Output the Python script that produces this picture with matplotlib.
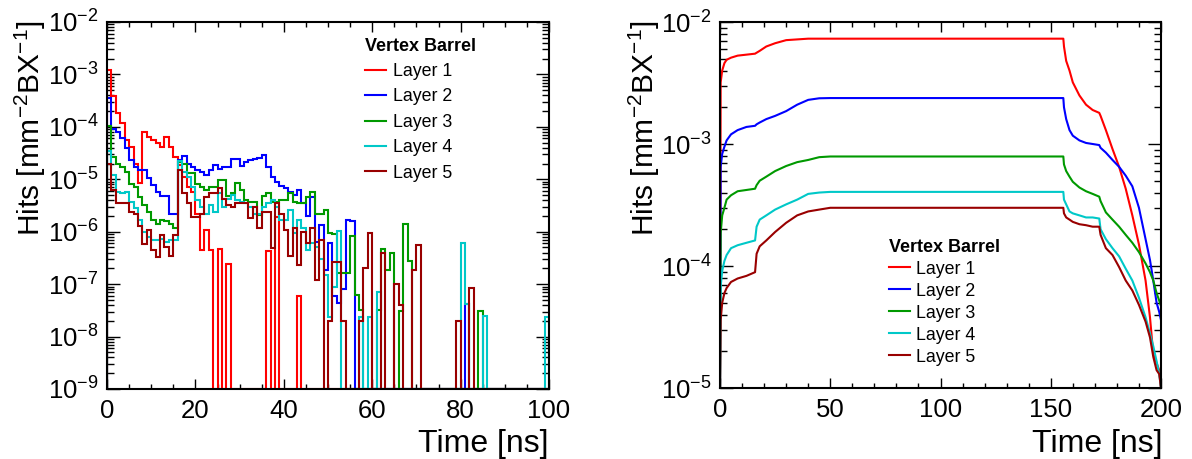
import numpy as np
import matplotlib
matplotlib.use('Agg')
import matplotlib.pyplot as plt
from matplotlib.lines import Line2D
from matplotlib.ticker import LogLocator, MultipleLocator, NullFormatter

plt.rcParams['font.family'] = ['Liberation Sans', 'DejaVu Sans']
plt.rcParams['mathtext.fontset'] = 'custom'
plt.rcParams['mathtext.rm'] = 'Liberation Sans'
plt.rcParams['mathtext.it'] = 'Liberation Sans:italic'
plt.rcParams['mathtext.bf'] = 'Liberation Sans:bold'
plt.rcParams['axes.unicode_minus'] = False

layers = ['Layer 1', 'Layer 2', 'Layer 3', 'Layer 4', 'Layer 5']
colors = ['#ff0000', '#0000ff', '#009900', '#00c8c8', '#990000']

# left panel: hits per 1 ns bin, 0-100 ns
bin_edges = np.arange(0, 101, 1)

hits_l1 = [1.2e-3, 3.8e-4, 1.8e-4, 1.2e-4, 5.6e-5, 4.2e-5, 2.0e-5, 8.5e-6, 8.1e-5, 6.5e-5,
           5.6e-5, 5.0e-5, 4.2e-5, 6.5e-5, 4.2e-5, 2.7e-5, 1.9e-5, 1.1e-5, 7.0e-6, 5.7e-6,
           2.2e-6, 4.5e-7, 1.1e-6, 4.5e-7, 0, 4.7e-7, 0, 2.4e-7, 0, 0,
           0, 0, 0, 0, 0, 0, 4.2e-7, 0, 1.9e-6, 0,
           0, 0, 0, 5.9e-8, 0, 0, 0, 0, 0, 0,
           0, 0, 0, 0, 0, 0, 0, 0, 0, 0,
           0, 0, 0, 0, 0, 0, 0, 0, 0, 0,
           0, 0, 0, 0, 0, 0, 0, 0, 0, 0,
           0, 0, 0, 0, 0, 0, 0, 0, 0, 0,
           0, 0, 0, 0, 0, 0, 0, 0, 0, 0]

hits_l2 = [3.5e-4, 9.3e-5, 8.1e-5, 6.0e-5, 3.9e-5, 2.3e-5, 1.7e-5, 1.5e-5, 1.5e-5, 1.05e-5,
           7.8e-6, 5.8e-6, 4.7e-6, 4.7e-6, 2.2e-6, 2.2e-6, 2.3e-5, 2.8e-5, 2.0e-5, 1.7e-5,
           1.5e-5, 1.4e-5, 1.2e-5, 1.5e-5, 1.9e-5, 1.6e-5, 1.7e-5, 1.7e-5, 2.4e-5, 2.4e-5,
           1.8e-5, 2.1e-5, 2.3e-5, 2.4e-5, 2.5e-5, 2.9e-5, 1.7e-5, 1.1e-5, 8.9e-6, 7.6e-6,
           6.7e-6, 5.8e-6, 5.0e-6, 6.2e-6, 3.5e-6, 2.0e-6, 4.5e-6, 6.5e-7, 1.35e-6, 1.9e-7,
           6.0e-7, 6.0e-8, 4.3e-8, 8.0e-8, 1.7e-6, 1.6e-6, 0, 0, 0, 0,
           0, 0, 0, 0, 0, 0, 0, 0, 0, 0,
           0, 0, 0, 0, 0, 0, 0, 0, 0, 0,
           0, 4.2e-8, 0, 0, 0, 0, 0, 0, 0, 0,
           0, 0, 0, 0, 0, 0, 0, 0, 0, 0]

hits_l3 = [1.05e-4, 2.7e-5, 2.0e-5, 1.7e-5, 1.4e-5, 8.3e-6, 7.1e-6, 4.6e-6, 3.2e-6, 2.4e-6,
           1.7e-6, 1.4e-6, 1.7e-6, 1.6e-6, 1.4e-6, 1.2e-6, 2.1e-5, 2.0e-5, 1.3e-5, 1.3e-5,
           8.3e-6, 7.1e-6, 6.3e-6, 7.1e-6, 7.2e-6, 9.5e-6, 9.5e-6, 4.7e-6, 5.4e-6, 8.5e-6,
           6.2e-6, 4.0e-6, 3.7e-6, 3.7e-6, 2.1e-6, 4.7e-6, 5.4e-6, 3.7e-6, 3.7e-6, 4.0e-6,
           4.0e-6, 5.4e-6, 3.7e-6, 3.5e-6, 3.5e-6, 4.5e-6, 5.8e-6, 2.2e-6, 2.2e-6, 2.6e-6,
           9.3e-7, 8.9e-7, 1.6e-7, 1.6e-7, 1.6e-7, 8.3e-7, 6.2e-8, 3.2e-8, 0, 0,
           0, 3.2e-8, 4.6e-7, 1.9e-7, 4.0e-7, 0, 3.1e-8, 1.4e-6, 2.8e-7, 0,
           0, 0, 0, 0, 0, 0, 0, 0, 0, 0,
           0, 0, 0, 0, 3.1e-8, 0, 0, 0, 0, 0,
           0, 0, 0, 0, 0, 0, 0, 0, 0, 0]

hits_l4 = [3.5e-5, 1.2e-5, 5.8e-6, 5.4e-6, 5.8e-6, 3.7e-6, 2.8e-6, 1.7e-6, 1.0e-6, 7.9e-7,
           6.8e-7, 6.8e-7, 7.4e-7, 6.3e-7, 6.8e-7, 6.8e-7, 2.2e-5, 1.4e-5, 1.1e-5, 7.1e-6,
           4.0e-6, 3.0e-6, 2.2e-6, 3.2e-6, 2.4e-6, 5.4e-6, 3.0e-6, 4.3e-6, 5.0e-6, 4.0e-6,
           3.7e-6, 3.5e-6, 3.0e-6, 2.2e-6, 2.2e-6, 3.0e-6, 3.5e-6, 4.0e-6, 3.0e-6, 1.7e-6,
           1.7e-6, 2.6e-6, 9.3e-7, 1.7e-6, 1.2e-6, 4.5e-7, 6.0e-7, 5.0e-7, 3.0e-7, 1.5e-7,
           2.4e-8, 8.9e-8, 1.05e-6, 0, 0, 0, 0, 2.4e-8, 0, 2.4e-8,
           0, 7.1e-8, 0, 0, 0, 0, 0, 0, 0, 0,
           0, 0, 0, 0, 0, 0, 0, 0, 0, 0,
           6.2e-7, 4.2e-8, 0, 0, 0, 2.5e-8, 0, 0, 0, 0,
           0, 0, 0, 0, 0, 0, 0, 0, 0, 2.4e-8]

hits_l5 = [2.0e-5, 6.2e-6, 3.5e-6, 3.5e-6, 3.5e-6, 2.4e-6, 2.2e-6, 1.3e-6, 5.9e-7, 1.1e-6,
           4.4e-7, 3.3e-7, 8.5e-7, 5.1e-7, 3.5e-7, 8.5e-7, 1.5e-5, 5.4e-6, 3.5e-6, 1.9e-6,
           1.9e-6, 2.2e-6, 4.5e-6, 5.4e-6, 5.4e-6, 6.8e-6, 4.3e-6, 3.2e-6, 3.0e-6, 3.5e-6,
           3.5e-6, 3.5e-6, 1.8e-6, 3.0e-6, 1.2e-6, 2.4e-6, 2.4e-6, 4.8e-7, 3.5e-6, 2.2e-6,
           1.1e-6, 3.5e-7, 1.2e-6, 2.3e-7, 1.0e-6, 6.0e-7, 1.2e-6, 1.2e-7, 6.9e-7, 0,
           2.0e-8, 2.7e-7, 2.7e-7, 2.0e-8, 0, 0, 0, 2.0e-8, 2.0e-7, 9.5e-7,
           0, 0, 3.9e-7, 0, 0, 1.0e-7, 4.0e-8, 0, 0, 1.9e-7,
           5.5e-7, 0, 0, 0, 0, 0, 0, 0, 0, 2.0e-8,
           0, 0, 8.3e-8, 0, 0, 0, 0, 0, 0, 0,
           0, 0, 0, 0, 0, 0, 0, 0, 0, 0]

# right panel: 0-200 ns
time_pts = [0, 0.3, 1, 2, 3, 5, 8, 12, 15.9, 16.6, 18, 21, 25, 30, 35, 40, 45, 50,
            155.7, 156, 157, 158.5, 160, 163, 166, 169, 172, 172.6, 175, 178, 181,
            184, 187, 190, 193, 195, 196.5, 198, 199.2, 200]

occ_l1 = [1.0e-5, 3.2e-3, 4.0e-3, 4.6e-3, 4.9e-3, 5.1e-3, 5.3e-3, 5.4e-3, 5.5e-3, 5.6e-3,
          5.8e-3, 6.3e-3, 6.7e-3, 7.1e-3, 7.2e-3, 7.3e-3, 7.3e-3, 7.3e-3, 7.3e-3, 6.3e-3,
          4.8e-3, 4.0e-3, 3.2e-3, 2.5e-3, 2.1e-3, 1.9e-3, 1.8e-3, 1.7e-3, 1.3e-3, 9.1e-4,
          6.5e-4, 4.3e-4, 2.6e-4, 1.5e-4, 7.6e-5, 3.8e-5, 1.9e-5, 1.6e-5, 1.4e-5, 1.0e-5]
occ_l2 = [1.0e-5, 6.5e-4, 8.3e-4, 9.5e-4, 1.07e-3, 1.2e-3, 1.3e-3, 1.38e-3, 1.41e-3, 1.45e-3,
          1.5e-3, 1.6e-3, 1.7e-3, 1.86e-3, 2.1e-3, 2.3e-3, 2.37e-3, 2.38e-3, 2.38e-3, 2.0e-3,
          1.6e-3, 1.3e-3, 1.17e-3, 1.07e-3, 1.02e-3, 1.0e-3, 9.8e-4, 9.3e-4, 8.5e-4, 7.4e-4,
          6.5e-4, 5.5e-4, 4.5e-4, 3.0e-4, 1.66e-4, 1.12e-4, 7.6e-5, 5.0e-5, 4.2e-5, 3.6e-5]
occ_l3 = [1.0e-5, 1.86e-4, 2.6e-4, 3.0e-4, 3.5e-4, 3.8e-4, 4.1e-4, 4.2e-4, 4.3e-4, 4.6e-4,
          5.0e-4, 5.4e-4, 6.0e-4, 6.6e-4, 7.1e-4, 7.4e-4, 7.8e-4, 7.9e-4, 7.9e-4, 6.8e-4,
          6.0e-4, 5.4e-4, 4.9e-4, 4.4e-4, 4.1e-4, 3.9e-4, 3.7e-4, 3.4e-4, 2.75e-4, 2.4e-4,
          2.1e-4, 1.8e-4, 1.55e-4, 1.3e-4, 1.05e-4, 8.9e-5, 7.6e-5, 6.0e-5, 5.2e-5, 4.7e-5]
occ_l4 = [1.0e-5, 6.8e-5, 9.1e-5, 1.1e-4, 1.23e-4, 1.4e-4, 1.48e-4, 1.55e-4, 1.62e-4, 2.1e-4,
          2.4e-4, 2.6e-4, 2.9e-4, 3.2e-4, 3.5e-4, 3.9e-4, 4.0e-4, 4.05e-4, 4.05e-4, 3.5e-4,
          3.2e-4, 2.8e-4, 2.7e-4, 2.6e-4, 2.5e-4, 2.5e-4, 2.45e-4, 2.0e-4, 1.66e-4, 1.4e-4,
          1.2e-4, 9.5e-5, 7.6e-5, 5.5e-5, 3.8e-5, 2.8e-5, 2.2e-5, 1.66e-5, 1.3e-5, 1.0e-5]
occ_l5 = [1.0e-5, 3.6e-5, 5.0e-5, 6.0e-5, 6.6e-5, 7.4e-5, 7.9e-5, 8.3e-5, 8.9e-5, 1.26e-4,
          1.45e-4, 1.62e-4, 1.9e-4, 2.26e-4, 2.6e-4, 2.8e-4, 2.9e-4, 3.0e-4, 3.0e-4, 2.7e-4,
          2.5e-4, 2.4e-4, 2.3e-4, 2.2e-4, 2.16e-4, 2.1e-4, 2.1e-4, 1.8e-4, 1.4e-4, 1.23e-4,
          9.8e-5, 7.6e-5, 6.3e-5, 4.8e-5, 3.5e-5, 2.6e-5, 1.8e-5, 1.4e-5, 1.3e-5, 1.0e-5]

hits = [hits_l1, hits_l2, hits_l3, hits_l4, hits_l5]
occ = [occ_l1, occ_l2, occ_l3, occ_l4, occ_l5]

W, H = 1192, 459
fig = plt.figure(figsize=(W / 100, H / 100), dpi=100)
ax1 = fig.add_axes([107 / W, 1 - 389 / H, 442 / W, 367 / H])
ax2 = fig.add_axes([720 / W, 1 - 388 / H, 441 / W, 366 / H])

floor = 1e-9
for i in range(5):
    vals = np.array(hits[i], dtype=float)
    vals = np.where(vals > 0, vals, floor)
    ax1.stairs(vals, bin_edges, baseline=floor, color=colors[i], lw=1.5, zorder=2 + i)
    ax2.plot(time_pts, occ[i], color=colors[i], lw=1.5, zorder=2 + i)

ax1.set_xlim(0, 100)
ax1.set_ylim(1e-9, 1e-2)
ax2.set_xlim(0, 200)
ax2.set_ylim(1e-5, 1e-2)

for ax, xmaj, xmin in [(ax1, 20, 5), (ax2, 50, 10)]:
    ax.set_yscale('log')
    ax.xaxis.set_major_locator(MultipleLocator(xmaj))
    ax.xaxis.set_minor_locator(MultipleLocator(xmin))
    ax.yaxis.set_major_locator(LogLocator(base=10, numticks=20))
    ax.yaxis.set_minor_locator(LogLocator(base=10, subs=np.arange(2, 10), numticks=20))
    ax.yaxis.set_minor_formatter(NullFormatter())
    ax.tick_params(which='both', direction='in', top=True, right=True, width=1.0)
    ax.tick_params(axis='x', which='major', length=7.2, labelsize=18.5, pad=7)
    ax.tick_params(axis='x', which='minor', length=3.6)
    ax.tick_params(axis='y', which='major', length=9.4, labelsize=18.5, pad=6)
    ax.tick_params(axis='y', which='minor', length=5)
    for s in ax.spines.values():
        s.set_linewidth(1.5)
        s.set_zorder(10)

ylab = 'Hits [mm$^{-2}$BX$^{-1}$]'
fig.text(30 / W, 1 - 20 / H, ylab, rotation=90, ha='center', va='top', fontsize=21.5)
fig.text(644 / W, 1 - 20 / H, ylab, rotation=90, ha='center', va='top', fontsize=21.5)
fig.text(549 / W, 1 - 452 / H, 'Time [ns]', ha='right', va='baseline', fontsize=23)
fig.text(1162 / W, 1 - 452 / H, 'Time [ns]', ha='right', va='baseline', fontsize=23)

handles = [Line2D([], [], color=c, lw=1.5) for c in colors]
ax1.legend(handles, layers, title='Vertex Barrel', loc='upper left',
           bbox_to_anchor=(0.584, 0.957), frameon=False, fontsize=12.8,
           title_fontproperties={'weight': 'bold', 'size': 13}, alignment='left',
           handlelength=1.2, handletextpad=0.35, labelspacing=0.47,
           borderpad=0, borderaxespad=0)
ax2.legend(handles, layers, title='Vertex Barrel', loc='upper left',
           bbox_to_anchor=(0.383, 0.408), frameon=False, fontsize=12.8,
           title_fontproperties={'weight': 'bold', 'size': 13}, alignment='left',
           handlelength=1.2, handletextpad=0.35, labelspacing=0.28,
           borderpad=0, borderaxespad=0)

fig.savefig('out.png', dpi=100)
